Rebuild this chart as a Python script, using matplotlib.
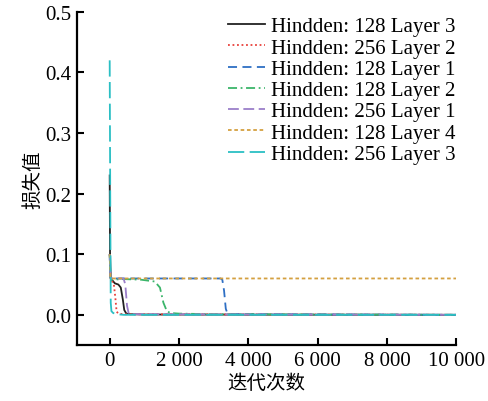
import numpy as np
import matplotlib
matplotlib.use("Agg")
import matplotlib.pyplot as plt

plt.rcParams['font.family'] = ['Liberation Serif', 'Noto Sans CJK SC']
plt.rcParams['font.size'] = 15

# data
labels = ['Hindden: 128 Layer 3', 'Hindden: 256 Layer 2', 'Hindden: 128 Layer 1',
          'Hindden: 128 Layer 2', 'Hindden: 256 Layer 1', 'Hindden: 128 Layer 4',
          'Hindden: 256 Layer 3']

x_h128_l3 = [0, 10, 30, 60, 150, 250, 320, 380, 420, 480, 600, 1000, 10000]
y_h128_l3 = [0.23, 0.1, 0.062, 0.058, 0.052, 0.05, 0.045, 0.025, 0.008, 0.002, 0.001, 0.0005, 0.0]

x_h256_l2 = [0, 20, 60, 120, 160, 200, 260, 400, 10000]
y_h256_l2 = [0.1, 0.06, 0.056, 0.05, 0.03, 0.005, 0.002, 0.001, 0.0]

x_h128_l1 = [0, 20, 60, 3200, 3250, 3300, 3350, 3400, 3600, 10000]
y_h128_l1 = [0.1, 0.062, 0.06, 0.06, 0.058, 0.04, 0.01, 0.002, 0.001, 0.0]

x_h128_l2 = [0, 20, 60, 400, 900, 1300, 1450, 1550, 1650, 1750, 2000, 3000, 10000]
y_h128_l2 = [0.1, 0.062, 0.058, 0.059, 0.058, 0.055, 0.045, 0.02, 0.006, 0.003, 0.002, 0.001, 0.0]

x_h256_l1 = [0, 20, 60, 400, 450, 500, 550, 700, 10000]
y_h256_l1 = [0.1, 0.062, 0.06, 0.06, 0.05, 0.015, 0.002, 0.001, 0.0]

x_h128_l4 = [0, 20, 60, 10000]
y_h128_l4 = [0.1, 0.062, 0.06, 0.06]

x_h256_l3 = [0, 15, 30, 50, 100, 200, 400, 10000]
y_h256_l3 = [0.42, 0.2, 0.02, 0.006, 0.003, 0.001, 0.0, 0.0]

xticks = [0, 2000, 4000, 6000, 8000, 10000]
xticklabels = ['0', '2 000', '4 000', '6 000', '8 000', '10 000']
yticks = [0.0, 0.1, 0.2, 0.3, 0.4, 0.5]

series = [
    (x_h128_l3, y_h128_l3, '#222222', '-'),
    (x_h256_l2, y_h256_l2, '#e8403a', (0, (1, 1.5))),
    (x_h128_l1, y_h128_l1, '#2e6fc4', (0, (5, 3))),
    (x_h128_l2, y_h128_l2, '#3bb56a', (0, (5, 2, 1, 2))),
    (x_h256_l1, y_h256_l1, '#9b7fc9', (0, (6, 2.5))),
    (x_h128_l4, y_h128_l4, '#d4a040', (0, (2, 1.5))),
    (x_h256_l3, y_h256_l3, '#2bbfc4', (0, (9, 3))),
]

fig = plt.figure(figsize=(4.89, 4.02), dpi=100)
ax = fig.add_axes([0.157, 0.139, 0.776, 0.829])

for (xs, ys, c, ls), lab in zip(series, labels):
    ax.plot(xs, ys, color=c, linestyle=ls, linewidth=1.3, label=lab)

ax.set_xlim(-950, 10000)
ax.set_ylim(-0.05, 0.5)
ax.set_xticks(xticks)
ax.set_xticklabels(xticklabels)
ax.set_yticks(yticks)
ax.set_yticklabels(['%.1f' % v for v in yticks])
ax.tick_params(direction='in', length=5, width=1.5, labelsize=15, pad=4)
ax.spines['top'].set_visible(False)
ax.spines['right'].set_visible(False)
ax.spines['left'].set_linewidth(1.6)
ax.spines['bottom'].set_linewidth(1.6)

ax.set_xlabel('迭代次数', fontsize=14, labelpad=3)
ax.set_ylabel('损失值', fontsize=14, labelpad=2)

ax.legend(loc='upper right', frameon=False, fontsize=15, handlelength=1.75,
          handletextpad=0.3, labelspacing=0.08, borderaxespad=0.0,
          bbox_to_anchor=(1.02, 1.01))

fig.savefig('out.png', dpi=100)
